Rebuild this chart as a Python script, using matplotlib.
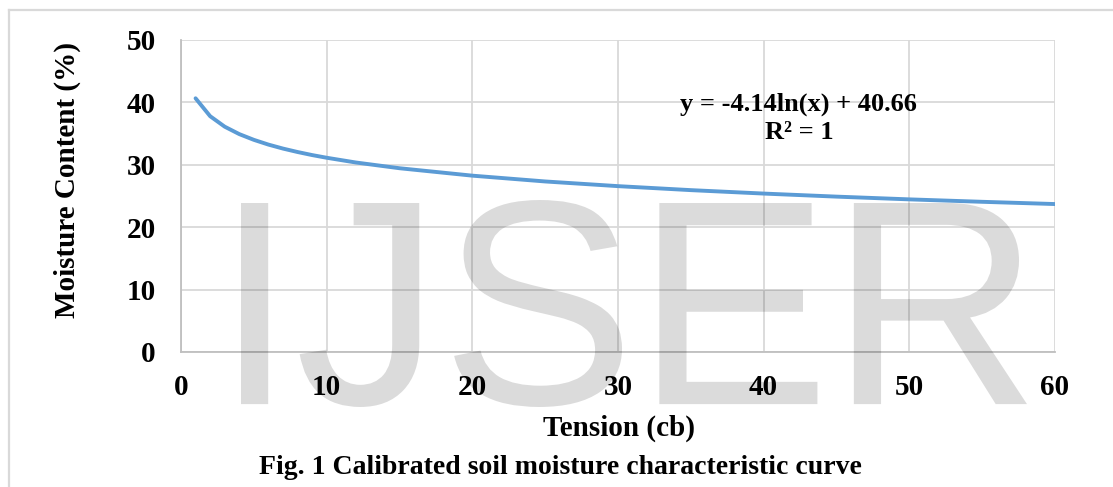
import matplotlib
matplotlib.use("Agg")
import matplotlib.pyplot as plt
from matplotlib.lines import Line2D
from matplotlib.textpath import TextPath
from matplotlib.patches import PathPatch
from matplotlib.font_manager import FontProperties
from matplotlib.transforms import Affine2D

# Data
tension = [1, 2, 3, 4, 5, 6, 7, 8, 9, 10, 12, 15, 20, 25, 30, 35, 40, 45, 50, 55, 60]
moisture = [40.66, 37.79, 36.11, 34.92, 34.00, 33.24, 32.60, 32.05, 31.56, 31.13,
            30.37, 29.45, 28.26, 27.33, 26.58, 25.94, 25.39, 24.90, 24.46, 24.07, 23.71]
x_ticks = [0, 10, 20, 30, 40, 50, 60]
y_ticks = [0, 10, 20, 30, 40, 50]
equation_text = "y = -4.14ln(x) + 40.66\nR² = 1"
x_title = "Tension (cb)"
y_title = "Moisture Content (%)"
caption = "Fig. 1 Calibrated soil moisture characteristic curve"
watermark = "IJSER"

W, H = 1113, 487
fig = plt.figure(figsize=(W / 100, H / 100), dpi=100)
serif = ["Liberation Serif", "DejaVu Serif"]

def fx(px):
    return px / W

def fy(py):
    return 1 - py / H

# outer frame (top and left edges visible)
fig.add_artist(Line2D([fx(9), fx(9)], [fy(10), 0], transform=fig.transFigure,
                      color="#d9d9d9", lw=1.6))
fig.add_artist(Line2D([fx(9), fx(1113)], [fy(10), fy(10)], transform=fig.transFigure,
                      color="#d9d9d9", lw=1.6))

ax = fig.add_axes([fx(181), fy(352), fx(1055) - fx(181), fy(40) - fy(352)])
ax.plot(tension, moisture, color="#5b9bd5", lw=2.8, solid_capstyle="round", zorder=3)
ax.set_xlim(0, 60)
ax.set_ylim(0, 50)
ax.set_xticks(x_ticks)
ax.set_yticks(y_ticks)
ax.grid(True, color="#d9d9d9", lw=1.3)
ax.set_axisbelow(True)
for s in ["top", "right"]:
    ax.spines[s].set_visible(False)
for s in ["left", "bottom"]:
    ax.spines[s].set_color("#bfbfbf")
    ax.spines[s].set_linewidth(1.3)
ax.tick_params(length=0)
ax.tick_params(axis="y", pad=18)
ax.tick_params(axis="x", pad=16)
for lab in ax.get_xticklabels() + ax.get_yticklabels():
    lab.set_fontfamily(serif)
    lab.set_fontweight("bold")
    lab.set_fontsize(21)

ax.text(0.707, 0.75, equation_text, transform=ax.transAxes, ha="center", va="center",
        fontfamily=serif, fontweight="bold", fontsize=19, linespacing=1.3)

fig.text(fx(619), fy(428), x_title, ha="center", va="center",
         fontfamily=serif, fontweight="bold", fontsize=21)
fig.text(fx(67), fy(180), y_title, ha="center", va="center", rotation=90,
         fontfamily=serif, fontweight="bold", fontsize=21)
fig.text(fx(560), fy(467), caption, ha="center", va="center",
         fontfamily=serif, fontweight="bold", fontsize=20)

# watermark, fitted into its pixel box on the page
tp = TextPath((0, 0), watermark, size=100, prop=FontProperties(family="Liberation Sans"))
ext = tp.get_extents()
left, right, top, bottom = 241, 1027, 200, 407
sx = (right - left) / ext.width
sy = (bottom - top) / ext.height
tr = (Affine2D().translate(-ext.x0, -ext.y0).scale(sx, sy)
      .translate(left, H - bottom))
patch = PathPatch(tr.transform_path(tp), facecolor="black", edgecolor="none",
                  alpha=0.14, transform=None, zorder=10)
fig.add_artist(patch)

fig.savefig("out.png", dpi=100, facecolor="white")
